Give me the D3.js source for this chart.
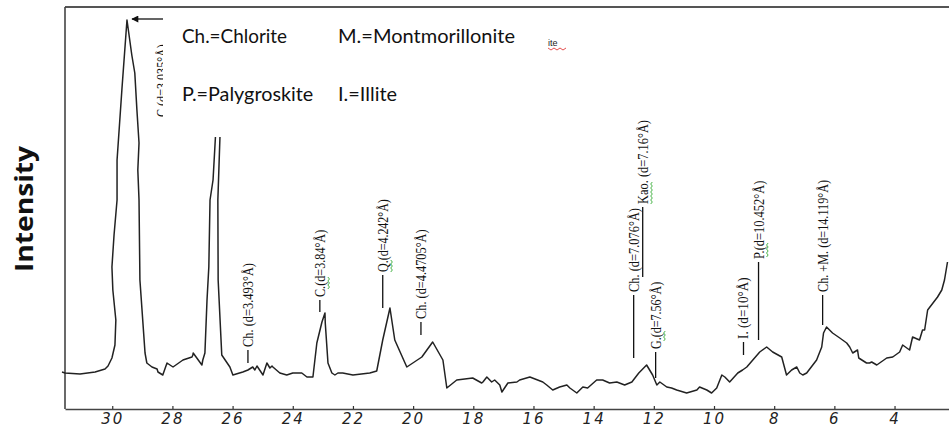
<!DOCTYPE html>
<html>
<head>
<meta charset="utf-8">
<script src="https://cdn.jsdelivr.net/npm/d3@7"></script>
<style>
  html, body { margin: 0; padding: 0; background: #fff; }
  svg { display: block; }
</style>
</head>
<body>
<div id="chart"></div>
<script>
  // XRD pattern (2-theta, intensity in arbitrary units)
  const twoTheta = [31.67, 31.57, 31.07, 30.57, 30.24, 30.14, 30.01, 29.91, 29.88, 29.98, 30.01, 29.94, 29.84,
    29.84, 29.68, 29.51, 29.35, 29.25, 29.18, 29.11, 29.15, 29.11, 29.08, 28.91, 28.85, 28.68, 28.51, 28.48,
    28.32, 28.18, 27.98, 27.65, 27.35, 27.32, 27.31, 27.02, 26.99, 26.92, 26.85, 26.79, 26.75, 26.65, 26.57,
    26.49, 26.42, 26.49, 26.48, 26.36, 26.09, 25.99, 25.66, 25.49, 25.33, 25.26, 25.19, 24.99, 24.86, 24.76,
    24.69, 24.66, 24.43, 24.20, 24.00, 23.70, 23.53, 23.33, 23.20, 23.03, 22.93, 22.92, 22.83, 22.70, 22.60,
    22.50, 22.34, 22.00, 21.44, 21.21, 21.01, 20.77, 20.61, 20.21, 19.71, 19.35, 19.01, 18.88, 18.55, 18.02,
    17.72, 17.68, 17.55, 17.39, 17.29, 17.12, 17.05, 16.85, 16.55, 16.46, 16.12, 15.69, 15.56, 15.36, 15.13,
    14.89, 14.79, 14.56, 14.36, 14.20, 13.90, 13.70, 13.47, 13.23, 12.97, 12.73, 12.50, 12.24, 12.04, 11.90,
    11.80, 11.57, 11.41, 11.24, 10.91, 10.57, 10.48, 10.24, 10.08, 9.91, 9.74, 9.64, 9.48, 9.21, 9.05, 8.91,
    8.71, 8.48, 8.25, 8.05, 7.75, 7.59, 7.42, 7.25, 7.15, 7.05, 6.92, 6.59, 6.42, 6.36, 6.26, 6.06, 5.82,
    5.59, 5.49, 5.39, 5.23, 5.19, 4.93, 4.83, 4.76, 4.59, 4.26, 4.06, 3.83, 3.73, 3.50, 3.40, 3.17, 3.07,
    3.00, 2.90, 2.57, 2.43, 2.34, 2.24];

  const intensity = [37, 36, 35, 37, 40, 43, 51, 64, 89, 119, 142, 174, 209,
    249, 319, 389, 354, 336, 299, 266, 239, 209, 129, 56, 46, 42, 40, 37, 34,
    46, 42, 49, 52, 54, 56, 44, 49, 56, 109, 142, 209, 229, 272, 300,
    272, 209, 129, 54, 42, 34, 37, 39, 42, 39, 43, 34, 46, 41, 43,
    42, 36, 34, 36, 36, 32, 32, 66, 87, 96, 86, 46, 36, 34, 36,
    36, 34, 36, 38, 69, 101, 69, 42, 52, 67, 49, 21, 29, 31, 26,
    27, 32, 27, 29, 24, 17, 26, 27, 29, 32, 27, 24, 19, 22, 24,
    21, 16, 22, 21, 29, 29, 26, 27, 24, 27, 36, 44, 34, 24, 27,
    22, 21, 19, 16, 19, 22, 19, 16, 21, 34, 32, 27, 36, 39, 42,
    49, 57, 62, 57, 52, 34, 39, 42, 36, 34, 36, 49, 62, 76, 82, 76, 71,
    66, 62, 56, 59, 51, 46, 46, 47, 44, 51, 52, 57, 64, 59, 72, 69,
    79, 79, 99, 112, 119, 129, 147, 150];

  // peak annotations (label, 2-theta, line foot and line head in intensity units)
  const peakLabels = ["C.(d=3.035°Å)", "Ch. (d=3.493°Å)", "C.(d=3.84°Å)", "Q.(d=4.242°Å)", "Ch. (d=4.4705°Å)",
    "Ch. (d=7.076°Å)", "Kao. (d=7.16°Å)", "G.(d=7.56°Å)", "I. (d=10°Å)", "P.(d=10.452°Å)", "Ch. +M. (d=14.119°Å)"];
  const peakTheta = [28.33, 25.49, 23.10, 21.01, 19.74, 12.67, 12.37, 11.94, 9.02, 8.52, 6.39];
  const lineFrom = [289, 46, 97, 101, 74, 51, 132, 31, 54, 69, 84];
  const lineTo = [289, 59, 109, 134, 87, 114, 202, 57, 67, 147, 114];
  // spell-checker underlines seen in the source, as [start, end] along each label
  const squiggles = [null, null, [8, 20], [0, 12], null, null, [0, 22], [8, 18], null, [2, 16], null];

  const legendLeft = ["Ch.=Chlorite", "P.=Palygroskite"];
  const legendRight = ["M.=Montmorillonite", "I.=Illite"];

  const xTicks = d3.range(30, 1, -2);

  const width = 949, height = 430;
  const svg = d3.select("#chart").append("svg")
    .attr("width", width)
    .attr("height", height);

  const x = d3.scaleLinear().domain([31.57, 2.19]).range([65, 949]);
  const y = d3.scaleLinear().domain([0, 402]).range([409, 7]);

  // frame: top + left
  svg.append("line")
    .attr("x1", 65).attr("x2", width).attr("y1", 7).attr("y2", 7)
    .attr("stroke", "#555").attr("stroke-width", 2);
  svg.append("line")
    .attr("x1", 65).attr("x2", 65).attr("y1", 7).attr("y2", 409)
    .attr("stroke", "#444").attr("stroke-width", 1.6);

  // x axis, ticks pointing up into the plot
  const xAxis = d3.axisBottom(x)
    .tickValues(xTicks)
    .tickSizeInner(-3)
    .tickSizeOuter(0)
    .tickPadding(4)
    .tickFormat(d3.format("d"));

  const gx = svg.append("g")
    .attr("transform", "translate(0,409)")
    .call(xAxis);
  gx.select(".domain").attr("stroke", "#444").attr("stroke-width", 1.6);
  gx.selectAll(".tick line").attr("stroke", "#333").attr("stroke-width", 1.2);
  gx.selectAll(".tick text")
    .attr("fill", "#222")
    .attr("font-family", "'DejaVu Sans', sans-serif")
    .attr("font-style", "italic")
    .attr("font-size", 15)
    .attr("letter-spacing", 2);

  // the pattern
  const pts = twoTheta.map((t, i) => [t, intensity[i]]);
  const line = d3.line()
    .x(d => x(d[0]))
    .y(d => y(d[1]));
  svg.append("path")
    .datum(pts)
    .attr("d", line)
    .attr("fill", "none")
    .attr("stroke", "#222")
    .attr("stroke-width", 1.5)
    .attr("stroke-linejoin", "round");

  // peak markers and rotated labels
  const ann = svg.append("g").attr("class", "annotations");
  peakLabels.forEach((lab, i) => {
    const px = x(peakTheta[i]);
    if (lineTo[i] > lineFrom[i]) {
      ann.append("line")
        .attr("x1", px).attr("x2", px)
        .attr("y1", y(lineFrom[i])).attr("y2", y(lineTo[i]))
        .attr("stroke", "#111").attr("stroke-width", 1.3);
    }
    const ty = y(lineTo[i]) - 3;
    const g = ann.append("g")
      .attr("transform", `translate(${px},${ty}) rotate(-90)`);
    g.append("text")
      .attr("dominant-baseline", "central")
      .attr("font-family", "'Liberation Serif', serif")
      .attr("font-size", 15)
      .attr("fill", "#111")
      .attr("textLength", lab.length * 5.6)
      .attr("lengthAdjust", "spacingAndGlyphs")
      .text(lab);
    const sq = squiggles[i];
    if (sq) {
      const pts2 = d3.range(sq[0], sq[1] + 0.1, 2).map((k, j) => [k, 8 + (j % 2) * 1.6]);
      g.append("path")
        .attr("d", d3.line()(pts2))
        .attr("fill", "none")
        .attr("stroke", "#3a3")
        .attr("stroke-width", 0.9);
    }
  });

  // white legend box that hides the top of the 26.6 peak
  svg.append("rect")
    .attr("x", 163).attr("y", 9)
    .attr("width", 440).attr("height", 128)
    .attr("fill", "#fff");

  const legend = svg.append("g")
    .attr("font-family", "Lato, 'Open Sans', sans-serif")
    .attr("font-size", 20)
    .attr("fill", "#111");
  legendLeft.forEach((t, i) => {
    legend.append("text")
      .attr("x", 182).attr("y", 43 + i * 58)
      .attr("textLength", t.length * 8.75)
      .attr("lengthAdjust", "spacingAndGlyphs")
      .text(t);
  });
  legendRight.forEach((t, i) => {
    legend.append("text")
      .attr("x", 338).attr("y", 43 + i * 58)
      .attr("textLength", i === 0 ? 177 : 59)
      .attr("lengthAdjust", "spacingAndGlyphs")
      .text(t);
  });

  // stray word-processor fragment
  svg.append("text")
    .attr("x", 548).attr("y", 46)
    .attr("font-family", "'Liberation Sans', sans-serif")
    .attr("font-size", 9)
    .attr("fill", "#222")
    .text("ite");
  svg.append("path")
    .attr("d", d3.range(0, 7).map((k, i) => `${i ? "L" : "M"}${548 + k * 3},${48 + (k % 2) * 2}`).join(""))
    .attr("fill", "none").attr("stroke", "#d22").attr("stroke-width", 0.8);

  // arrow pointing at the main peak
  const defs = svg.append("defs");
  defs.append("marker")
    .attr("id", "arrowhead")
    .attr("viewBox", "0 0 10 10")
    .attr("refX", 9).attr("refY", 5)
    .attr("markerWidth", 9).attr("markerHeight", 7)
    .attr("markerUnits", "userSpaceOnUse")
    .attr("orient", "auto")
    .append("path")
    .attr("d", "M0,0L10,5L0,10Z")
    .attr("fill", "#111");
  svg.append("line")
    .attr("x1", 163).attr("x2", x(29.51) + 5)
    .attr("y1", y(390)).attr("y2", y(390))
    .attr("stroke", "#111").attr("stroke-width", 1.3)
    .attr("marker-end", "url(#arrowhead)");

  // y title
  svg.append("text")
    .attr("transform", "translate(23,272) rotate(-90)")
    .attr("dominant-baseline", "central")
    .attr("font-family", "'Open Sans', sans-serif")
    .attr("font-weight", 700)
    .attr("font-size", 25)
    .attr("fill", "#111")
    .attr("textLength", 126)
    .attr("lengthAdjust", "spacingAndGlyphs")
    .text("Intensity");
</script>
</body>
</html>
